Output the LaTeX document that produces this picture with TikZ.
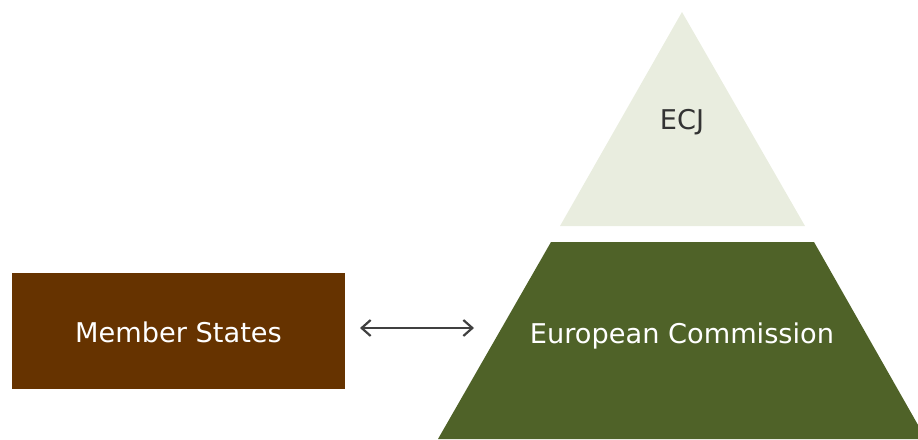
\documentclass[tikz,border=0pt]{standalone}
\usepackage{fontspec}
\setmainfont{DejaVu Sans}
\usetikzlibrary{arrows.meta}
\definecolor{ecjfill}{HTML}{E9EDDF}
\definecolor{comfill}{HTML}{4F6228}
\definecolor{msfill}{HTML}{663300}
\definecolor{arrowc}{HTML}{404040}
\definecolor{darktext}{HTML}{333333}
\tikzset{
  lbl/.style={font=\fontsize{27.2}{31}\selectfont, inner sep=0pt},
  barb/.tip={Straight Barb[length=9pt,width=16pt,line width=2.2pt]},
}
\begin{document}
\begin{tikzpicture}[x=1pt,y=-1pt]
\useasboundingbox (0,0) rectangle (918,439);
\begin{scope}
\clip (0,0) rectangle (918,439);
\fill[ecjfill] (682,12) -- (805,226) -- (560,226) -- cycle;
\fill[comfill] (551,242) -- (814,242) -- (926,439) -- (438,439) -- cycle;
\end{scope}
\node[lbl, text=darktext] (ecj) at (682,122) {ECJ};
\node[lbl, text=white] (ec) at (682,336) {European Commission};
\node[fill=msfill, minimum width=333pt, minimum height=116pt, inner sep=0pt] (ms) at (178.5,331) {};
\node[lbl, text=white] at ([yshift=-1pt]ms.center) {Member States};
\coordinate (al) at (360,328);
\coordinate (ar) at (474,328);
\draw[arrowc, line width=2pt, {barb}-{barb}] (al) -- (ar);
\end{tikzpicture}
\end{document}
